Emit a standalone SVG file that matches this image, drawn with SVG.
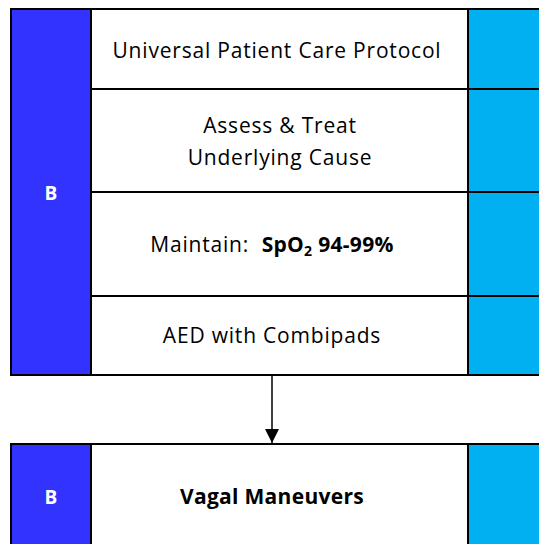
<svg xmlns="http://www.w3.org/2000/svg" width="539" height="544" viewBox="0 0 539 544">
  <defs>
    <marker id="arrow" markerWidth="14" markerHeight="14" refX="14" refY="7" orient="auto" markerUnits="userSpaceOnUse" viewBox="0 0 14 14">
      <path d="M0,0 L14,7 L0,14 Z" fill="#000"/>
    </marker>
    <style>
      .cell { stroke: #000; stroke-width: 2; }
      .lane { fill: #3333FF; }
      .side { fill: #00B0F0; }
      .body { fill: #FFFFFF; }
      .txt { font-family: "Open Sans", "Liberation Sans", sans-serif; font-size: 21px; fill: #000; text-anchor: middle; letter-spacing: 0.8px; white-space: pre; }
      .bold { font-weight: bold; letter-spacing: 0.3px; }
      .lbl { font-family: "Open Sans", "Liberation Sans", sans-serif; font-size: 19px; font-weight: bold; fill: #FFFFFF; text-anchor: middle; }
    </style>
  </defs>

  <!-- upper block: lane label, four steps, side strip -->
  <g id="lane-top">
    <rect class="cell lane" x="11" y="9" width="80" height="366"/>
    <text class="lbl" x="51" y="200">B</text>
  </g>

  <g id="step-protocol">
    <rect class="cell body" x="91" y="9" width="377" height="80"/>
    <rect class="cell side" x="468" y="9" width="80" height="80"/>
    <text class="txt" x="277" y="58">Universal Patient Care Protocol</text>
  </g>

  <g id="step-assess">
    <rect class="cell body" x="91" y="89" width="377" height="103"/>
    <rect class="cell side" x="468" y="89" width="80" height="103"/>
    <text class="txt" x="280" y="133">Assess &amp; Treat</text>
    <text class="txt" x="280" y="165">Underlying Cause</text>
  </g>

  <g id="step-spo2">
    <rect class="cell body" x="91" y="192" width="377" height="104"/>
    <rect class="cell side" x="468" y="192" width="80" height="104"/>
    <text class="txt" x="272" y="252">Maintain:  <tspan class="bold">SpO<tspan font-size="14" dy="4">2</tspan><tspan dy="-4"> 94-99%</tspan></tspan></text>
  </g>

  <g id="step-aed">
    <rect class="cell body" x="91" y="296" width="377" height="79"/>
    <rect class="cell side" x="468" y="296" width="80" height="79"/>
    <text class="txt" x="272" y="343">AED with Combipads</text>
  </g>

  <!-- lower block -->
  <g id="step-vagal">
    <rect class="cell lane" x="11" y="444" width="80" height="110"/>
    <text class="lbl" x="51" y="504">B</text>
    <rect class="cell body" x="91" y="444" width="377" height="110"/>
    <rect class="cell side" x="468" y="444" width="80" height="110"/>
    <text class="txt bold" x="272" y="504">Vagal Maneuvers</text>
  </g>

  <g id="connectors">
    <line x1="272" y1="375" x2="272" y2="443" stroke="#000" stroke-width="1.5" marker-end="url(#arrow)"/>
  </g>
</svg>
